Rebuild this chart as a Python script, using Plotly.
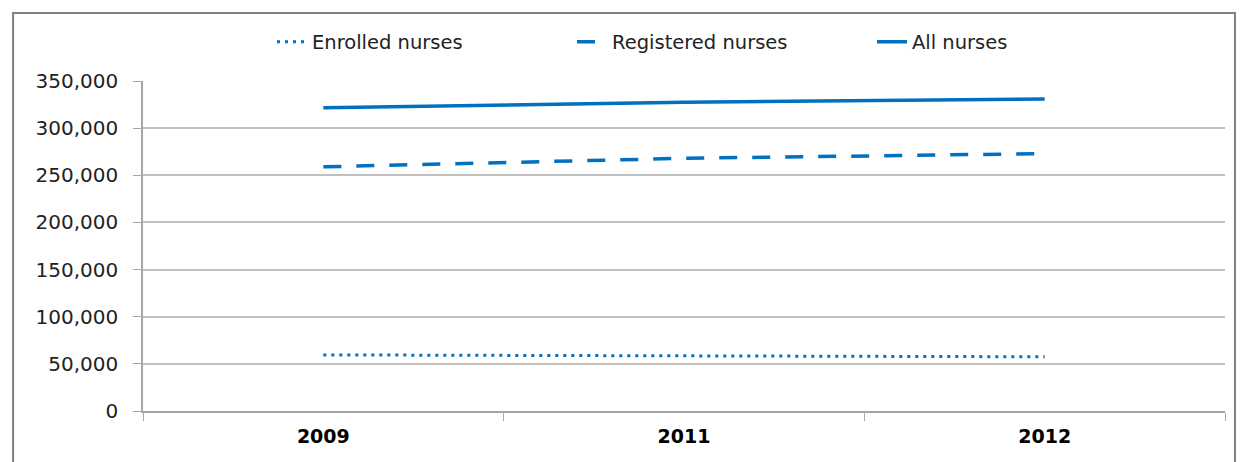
import plotly.graph_objects as go

years = ["2009", "2011", "2012"]
enrolled = [59500, 58500, 57500]
registered = [259000, 268000, 273000]
all_nurses = [321500, 327500, 331000]
y_ticks = [0, 50000, 100000, 150000, 200000, 250000, 300000, 350000]

blue = "#0070C0"
font_family = "'DejaVu Sans', sans-serif"

fig = go.Figure()
fig.add_trace(go.Scatter(x=years, y=enrolled, mode="lines", name="Enrolled nurses",
                         line=dict(color=blue, width=3, dash="3px,5px")))
fig.add_trace(go.Scatter(x=years, y=registered, mode="lines", name="Registered nurses",
                         line=dict(color=blue, width=3.5, dash="18px,15px")))
fig.add_trace(go.Scatter(x=years, y=all_nurses, mode="lines", name="All nurses",
                         line=dict(color=blue, width=3.5)))

fig.update_layout(
    width=1245, height=462,
    margin=dict(l=143, r=20, t=81, b=51, autoexpand=False),
    paper_bgcolor="white", plot_bgcolor="white",
    font=dict(family=font_family, size=19, color="#222222"),
    legend=dict(orientation="h", xref="container", x=272 / 1245, xanchor="left",
                yref="container", y=1 - 42 / 462, yanchor="middle", bgcolor="rgba(0,0,0,0)",
                font=dict(size=19.5), entrywidth=255, entrywidthmode="pixels",
                traceorder="normal"),
    xaxis=dict(type="category", range=[-0.5, 2.5], tickson="boundaries", ticks="outside",
               ticklen=8, tickcolor="#a6a6a6", showgrid=False, showline=True,
               linecolor="#a6a6a6", linewidth=1.5,
               tickfont=dict(size=19, color="#000000", family=font_family, weight="bold"),
               ticklabelstandoff=7),
    yaxis=dict(range=[0, 350000], tickvals=y_ticks,
               ticktext=[f"{v:,}" for v in y_ticks], ticks="outside", ticklen=8,
               tickcolor="#a6a6a6", showgrid=True, gridcolor="#bfbfbf", gridwidth=1.5,
               showline=True, linecolor="#a6a6a6", linewidth=1.5, zeroline=False,
               tickfont=dict(size=20, color="#222222"), ticklabelstandoff=11),
    shapes=[dict(type="rect", xref="paper", yref="paper",
                 x0=-0.1201, x1=1.0092, y0=-0.3, y1=1.206,
                 line=dict(color="#7f7f7f", width=2), fillcolor="rgba(0,0,0,0)",
                 layer="below")],
)

fig.write_html("out.html", config={"displayModeBar": False},
               post_script="document.body.style.margin='0';document.body.style.overflow='hidden';")
